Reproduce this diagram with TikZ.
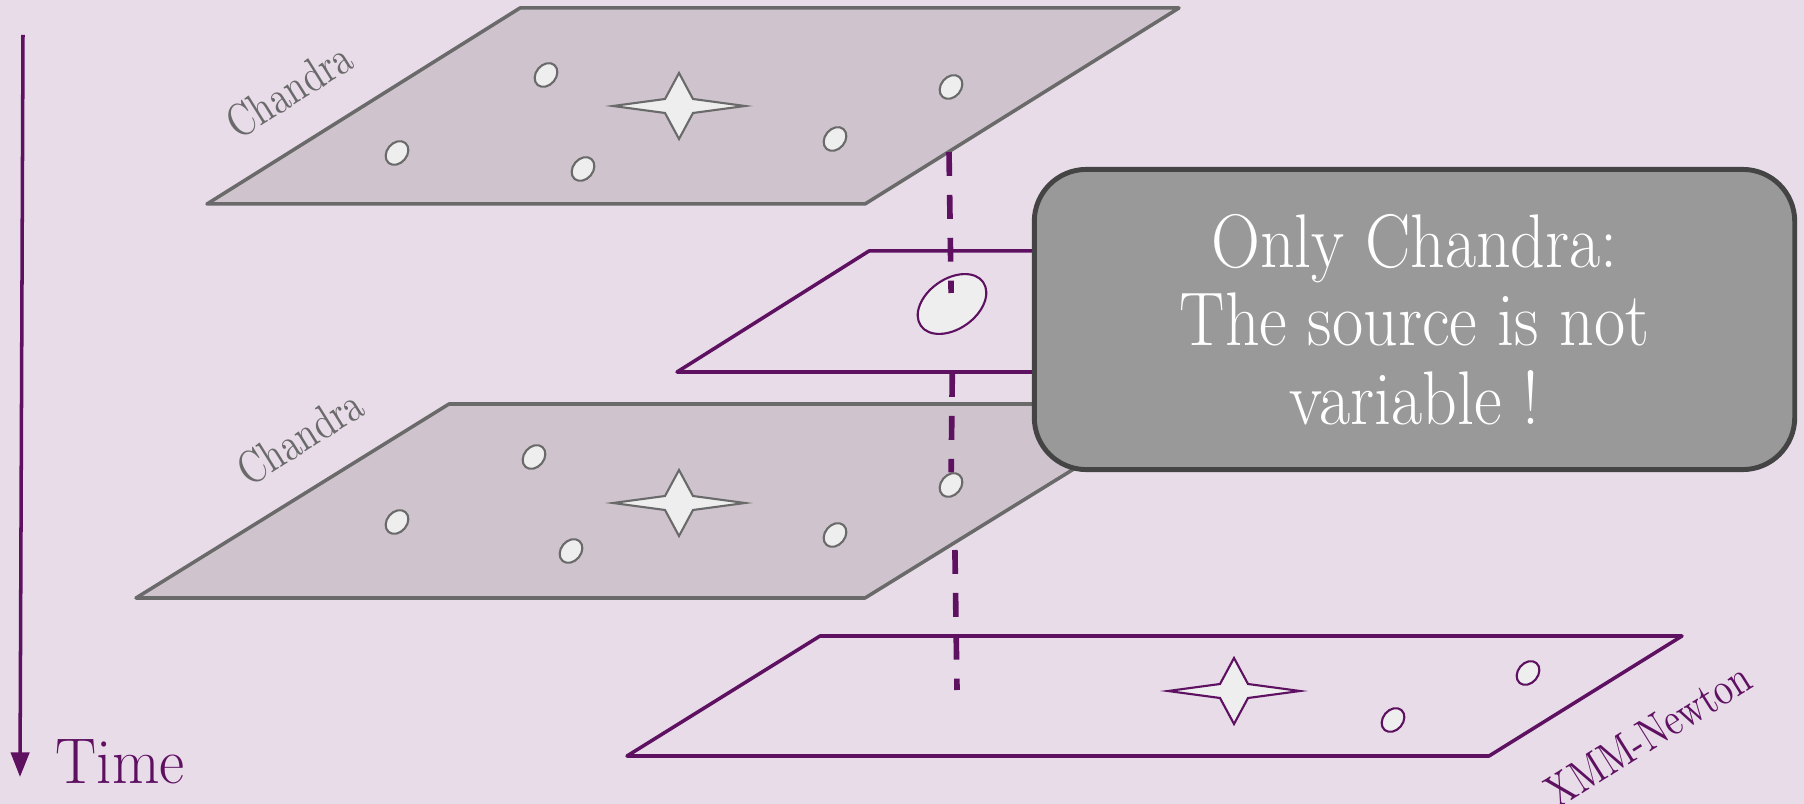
\documentclass[tikz,border=0pt]{standalone}
\usepackage{fontspec}
\usepackage{graphicx}
\usepackage{tikz}
\usetikzlibrary{shapes.geometric,arrows.meta,positioning,calc}
\definecolor{bgviolet}{HTML}{E8DCE9}
\definecolor{chanfill}{HTML}{CFC4CD}
\definecolor{changray}{HTML}{6A6A6A}
\definecolor{xmmpurple}{HTML}{5E1061}
\definecolor{srcfill}{HTML}{EEEEEE}
\definecolor{notefill}{HTML}{999999}
\definecolor{noteline}{HTML}{444444}
\newcommand{\tallText}[2][1.15]{\scalebox{1}[#1]{#2}}

\begin{document}
\begin{tikzpicture}[
    x=0.01cm, y=-0.01cm,
    chanplane/.style={draw=changray, fill=chanfill, line width=1pt, line join=round},
    xmmplane/.style={draw=xmmpurple, line width=1pt, line join=round},
    chansrc/.style={ellipse, draw=changray, fill=srcfill, line width=0.6pt, inner sep=0pt, minimum width=0.26cm, minimum height=0.2cm, rotate=50},
    xmmsrc/.style={ellipse, draw=xmmpurple, fill=srcfill, line width=0.6pt, inner sep=0pt, minimum width=0.26cm, minimum height=0.2cm, rotate=50},
    bigsrc/.style={ellipse, draw=xmmpurple, fill=srcfill, line width=0.6pt, inner sep=0pt, minimum width=0.76cm, minimum height=0.5cm, rotate=35},
    planelabel/.style={font=\fontsize{10.5}{12}\selectfont, rotate=32, inner sep=0pt},
    dashline/.style={xmmpurple, line width=1.6pt, dash pattern=on 6.8pt off 5.4pt},
    srcstar/.pic={\draw[pic actions, line width=0.6pt] (66,0) -- (14,7) -- (0,33) -- (-14,7) -- (-66,0) -- (-14,-7) -- (0,-33) -- (14,-7) -- cycle;}
]
    \useasboundingbox (0,0) rectangle (1804,804);
    \fill[bgviolet] (0,0) rectangle (1804,804);

    \coordinate (tstart) at (23,35);
    \coordinate (tend) at (20,777);
    \draw[-{Triangle[length=7pt,width=5.2pt]}, xmmpurple, line width=1pt] (tstart) -- (tend);
    \node[anchor=base west, inner sep=0pt, text=xmmpurple, font=\fontsize{17.5}{20}\selectfont] (timelbl) at (55,783) {\tallText[1.05]{Time}};

    \draw[chanplane] (520,8) -- (1179,8) -- (865,204) -- (207,204) -- cycle;
    \node[chansrc] (topa) at (546,75) {};
    \node[chansrc] (topb) at (397,153) {};
    \node[chansrc] (topc) at (583,169) {};
    \node[chansrc] (topd) at (835,139) {};
    \node[chansrc] (tope) at (951,87) {};
    \pic[draw=changray, fill=srcfill] (topstar) at (679,106) {srcstar};
    \node[planelabel, text=changray] (toplbl) at (289,90) {\tallText[1.25]{Chandra}};

    \draw[xmmplane] (869,251) -- (1500,251) -- (1308,372) -- (677,372) -- cycle;
    \node[bigsrc] (midsrc) at (952,304) {};

    \draw[chanplane] (449,404) -- (1179,404) -- (865,598) -- (136,598) -- cycle;
    \node[chansrc] (lowa) at (534,457) {};
    \node[chansrc] (lowb) at (397,522) {};
    \node[chansrc] (lowc) at (571,551) {};
    \node[chansrc] (lowd) at (835,535) {};
    \node[chansrc] (lowe) at (951,485) {};
    \pic[draw=changray, fill=srcfill] (lowstar) at (679,503) {srcstar};
    \node[planelabel, text=changray] (lowlbl) at (300,437) {\tallText[1.25]{Chandra}};

    \draw[xmmplane] (820,636) -- (1682,636) -- (1489,756) -- (627,756) -- cycle;
    \node[xmmsrc] (xmma) at (1393,720) {};
    \node[xmmsrc] (xmmb) at (1528,673) {};
    \pic[draw=xmmpurple, fill=srcfill] (xmmstar) at (1234,691) {srcstar};
    \node[planelabel, text=xmmpurple] (xmmlbl) at (1648,735) {\tallText[1.25]{XMM-Newton}};

    \coordinate (dtop) at (949,152);
    \coordinate (dmid) at (951.1,293);
    \coordinate (dmidtop) at (952.3,373);
    \coordinate (dlowtop) at (954.9,550);
    \coordinate (dend) at (957,690);
    \draw[dashline] (dtop) -- (dmid);
    \draw[dashline] (dmidtop) -- (lowe);
    \draw[dashline] (dlowtop) -- (dend);

    \node[draw=noteline, fill=notefill, line width=1.4pt, rounded corners=0.52cm, minimum width=7.6cm, minimum height=3cm, text=white, align=center, font=\fontsize{19.3}{22.3}\selectfont] (note) at (1414.5,319.5) {\tallText[1.12]{Only Chandra:}\\\tallText[1.12]{The source is not}\\\tallText[1.12]{variable !}};
\end{tikzpicture}
\end{document}
